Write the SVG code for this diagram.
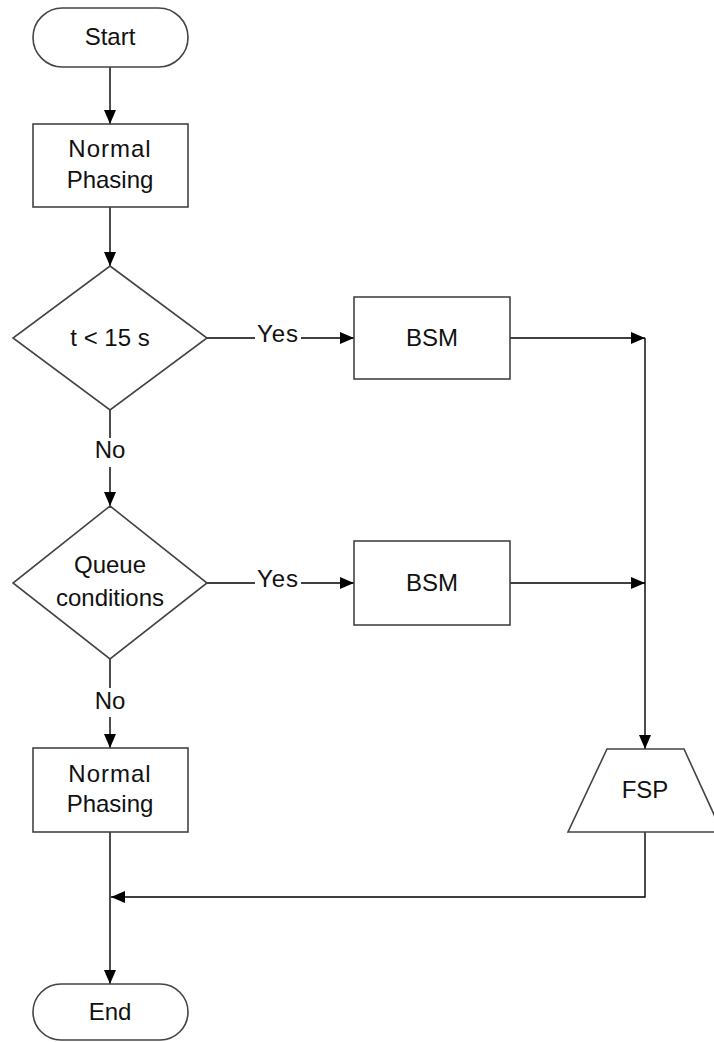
<svg xmlns="http://www.w3.org/2000/svg" width="714" height="1042" viewBox="0 0 714 1042">
  <style>
    .shape { fill: #ffffff; stroke: #444444; stroke-width: 1.6; }
    .conn { fill: none; stroke: #000000; stroke-width: 1.4; }
    .label { font-family: "Liberation Sans", Arial, sans-serif; font-size: 24px; fill: #111111; text-anchor: middle; }
    .lbl-bg { fill: #ffffff; stroke: none; }
  </style>
  <defs>
    <marker id="arrow" viewBox="0 0 14 12" refX="14" refY="6" markerWidth="14" markerHeight="12" markerUnits="userSpaceOnUse" orient="auto">
      <path d="M0,0 L14,6 L0,12 Z" fill="#000000"/>
    </marker>
  </defs>

  <rect width="714" height="1042" fill="#ffffff"/>

  <!-- connectors -->
  <g id="connectors">
    <line class="conn" x1="110" y1="67" x2="110" y2="124" marker-end="url(#arrow)"/>
    <line class="conn" x1="110" y1="207" x2="110" y2="266" marker-end="url(#arrow)"/>
    <line class="conn" x1="207" y1="338" x2="354" y2="338" marker-end="url(#arrow)"/>
    <line class="conn" x1="110" y1="410" x2="110" y2="506" marker-end="url(#arrow)"/>
    <line class="conn" x1="510" y1="338" x2="645" y2="338" marker-end="url(#arrow)"/>
    <line class="conn" x1="645" y1="338" x2="645" y2="749" marker-end="url(#arrow)"/>
    <line class="conn" x1="207" y1="583" x2="354" y2="583" marker-end="url(#arrow)"/>
    <line class="conn" x1="510" y1="583" x2="645" y2="583" marker-end="url(#arrow)"/>
    <line class="conn" x1="110" y1="659" x2="110" y2="748" marker-end="url(#arrow)"/>
    <line class="conn" x1="110" y1="832" x2="110" y2="984" marker-end="url(#arrow)"/>
    <polyline class="conn" points="645,832 645,897 111,897" marker-end="url(#arrow)"/>
    <!-- branch labels -->
    <rect class="lbl-bg" x="255" y="322" width="46" height="26"/>
    <text class="label" x="278" y="342" letter-spacing="1">Yes</text>
    <rect class="lbl-bg" x="255" y="567" width="46" height="26"/>
    <text class="label" x="278" y="587" letter-spacing="1">Yes</text>
    <rect class="lbl-bg" x="94" y="438" width="32" height="29"/>
    <text class="label" x="110" y="458">No</text>
    <rect class="lbl-bg" x="94" y="688" width="32" height="29"/>
    <text class="label" x="110" y="709">No</text>
  </g>

  <g id="start">
    <rect class="shape" x="33" y="8" width="155" height="59" rx="29.5" ry="29.5"/>
    <text class="label" x="110" y="45">Start</text>
  </g>

  <g id="normal-phasing-1">
    <rect class="shape" x="33" y="124" width="155" height="83"/>
    <text class="label" x="110" y="157" letter-spacing="1">Normal</text>
    <text class="label" x="110" y="188">Phasing</text>
  </g>

  <g id="decision-time">
    <polygon class="shape" points="110,266 207,338 110,410 13,338"/>
    <text class="label" x="110" y="346">t &lt; 15 s</text>
  </g>

  <g id="bsm-1">
    <rect class="shape" x="354" y="297" width="156" height="82"/>
    <text class="label" x="432" y="346">BSM</text>
  </g>

  <g id="decision-queue">
    <polygon class="shape" points="110,506 207,583 110,659 13,583"/>
    <text class="label" x="110" y="573">Queue</text>
    <text class="label" x="110" y="606">conditions</text>
  </g>

  <g id="bsm-2">
    <rect class="shape" x="354" y="541" width="156" height="84"/>
    <text class="label" x="432" y="591">BSM</text>
  </g>

  <g id="normal-phasing-2">
    <rect class="shape" x="33" y="748" width="155" height="84"/>
    <text class="label" x="110" y="782" letter-spacing="1">Normal</text>
    <text class="label" x="110" y="812">Phasing</text>
  </g>

  <g id="fsp">
    <polygon class="shape" points="607,749 684,749 722,832 568,832"/>
    <text class="label" x="645" y="798">FSP</text>
  </g>

  <g id="end">
    <rect class="shape" x="33" y="984" width="155" height="56" rx="28" ry="28"/>
    <text class="label" x="110" y="1020">End</text>
  </g>
</svg>
